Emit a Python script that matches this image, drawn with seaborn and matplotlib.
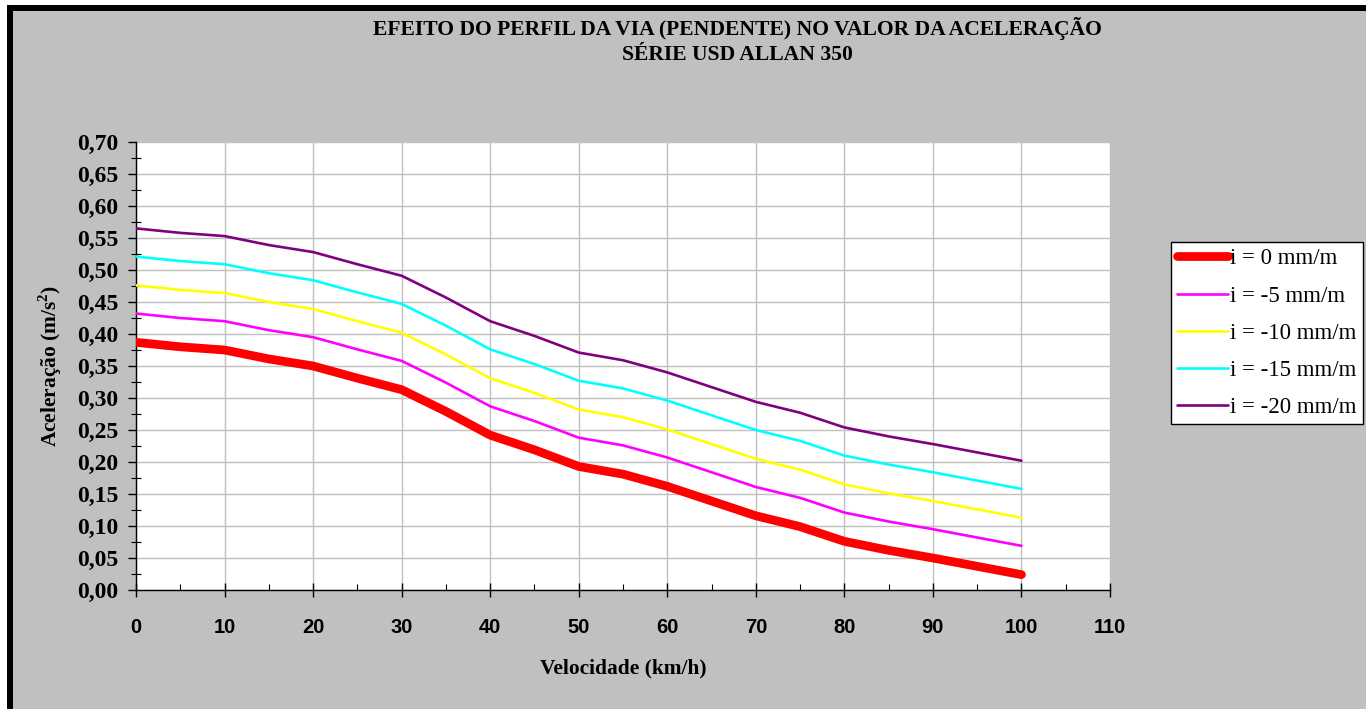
import pandas as pd
import matplotlib.pyplot as plt
import seaborn as sns
from matplotlib.patches import Rectangle
from matplotlib.ticker import MultipleLocator, FuncFormatter

# velocidade (km/h) e aceleracao (m/s2)
velocidade = list(range(0, 101, 5))
acel_0 = [0.387, 0.380, 0.375, 0.361, 0.350, 0.331, 0.313, 0.279, 0.242, 0.219, 0.193,
          0.181, 0.162, 0.139, 0.116, 0.099, 0.076, 0.062, 0.050, 0.037, 0.024]
acel_5 = [0.432, 0.425, 0.420, 0.406, 0.395, 0.376, 0.358, 0.324, 0.287, 0.264, 0.238,
          0.226, 0.207, 0.184, 0.161, 0.144, 0.121, 0.107, 0.095, 0.082, 0.069]
acel_10 = [0.476, 0.469, 0.464, 0.450, 0.439, 0.420, 0.402, 0.368, 0.331, 0.308, 0.282,
           0.270, 0.251, 0.228, 0.205, 0.188, 0.165, 0.151, 0.139, 0.126, 0.113]
acel_15 = [0.521, 0.514, 0.509, 0.495, 0.484, 0.465, 0.447, 0.413, 0.376, 0.353, 0.327,
           0.315, 0.296, 0.273, 0.250, 0.233, 0.210, 0.196, 0.184, 0.171, 0.158]
acel_20 = [0.565, 0.558, 0.553, 0.539, 0.528, 0.509, 0.491, 0.457, 0.420, 0.397, 0.371,
           0.359, 0.340, 0.317, 0.294, 0.277, 0.254, 0.240, 0.228, 0.215, 0.202]

rotulos = ['i = 0 mm/m', 'i = -5 mm/m', 'i = -10 mm/m', 'i = -15 mm/m', 'i = -20 mm/m']
cores = ['#FF0000', '#FF00FF', '#FFFF00', '#00FFFF', '#800080']
espessuras = [6.3, 1.9, 1.9, 1.9, 1.9]

plt.rcParams['font.family'] = ['Liberation Serif', 'DejaVu Serif']
plt.rcParams['mathtext.fontset'] = 'custom'
plt.rcParams['mathtext.rm'] = 'Liberation Serif:bold'
plt.rcParams['mathtext.bf'] = 'Liberation Serif:bold'

W, H = 1366, 709
fig = plt.figure(figsize=(W / 100, H / 100), dpi=100)
fig.patch.set_facecolor('white')

# fundo cinza com moldura preta (estilo Excel)
fig.add_artist(Rectangle((13 / W, 0), 1, (H - 11) / H, transform=fig.transFigure,
                         facecolor='#C0C0C0', edgecolor='none', zorder=-10))
fig.add_artist(Rectangle((7 / W, (H - 11) / H), 1, 6 / H, transform=fig.transFigure,
                         facecolor='black', edgecolor='none', zorder=-9))
fig.add_artist(Rectangle((7 / W, 0), 6 / W, (H - 5) / H, transform=fig.transFigure,
                         facecolor='black', edgecolor='none', zorder=-9))

ax = fig.add_axes([136 / W, 1 - 590 / H, (1110 - 136) / W, (590 - 142) / H])
ax.set_facecolor('white')

series = [acel_0, acel_5, acel_10, acel_15, acel_20]
for vals, lab, cor, lw in zip(series, rotulos, cores, espessuras):
    df = pd.DataFrame({'v': velocidade, 'a': vals})
    sns.lineplot(data=df, x='v', y='a', color=cor, linewidth=lw, label=lab, ax=ax,
                 solid_capstyle='round', solid_joinstyle='round', zorder=3)

ax.set_xlim(0, 110)
ax.set_ylim(0, 0.70)
ax.xaxis.set_major_locator(MultipleLocator(10))
ax.xaxis.set_minor_locator(MultipleLocator(5))
ax.yaxis.set_major_locator(MultipleLocator(0.05))
ax.yaxis.set_minor_locator(MultipleLocator(0.025))
ax.yaxis.set_major_formatter(FuncFormatter(lambda v, p: f'{v:.2f}'.replace('.', ',')))
ax.grid(True, which='major', color='#C0C0C0', linewidth=1)
ax.set_axisbelow(True)

for s in ['top', 'right']:
    ax.spines[s].set_visible(False)
for s in ['left', 'bottom']:
    ax.spines[s].set_color('black')
    ax.spines[s].set_linewidth(1)

ax.tick_params(axis='x', which='major', direction='inout', length=9.4, width=1, pad=15.5)
ax.tick_params(axis='x', which='minor', direction='in', length=4.3, width=0.8)
ax.tick_params(axis='y', which='major', direction='out', length=5.8, width=1, pad=7)
ax.tick_params(axis='y', which='minor', direction='inout', length=7.2, width=0.8)

for t in ax.get_xticklabels():
    t.set_fontfamily(['Liberation Sans', 'DejaVu Sans'])
    t.set_fontweight('bold')
    t.set_fontsize(14.5)
for t in ax.get_yticklabels():
    t.set_fontweight('bold')
    t.set_fontsize(17)

ax.set_xlabel('Velocidade (km/h)', fontsize=15.4, fontweight='bold')
ax.set_ylabel('Aceleração (m/s$^{2}$)', fontsize=15.4, fontweight='bold')
ax.xaxis.set_label_coords(0.5, -(658 - 590) / (590 - 142))
ax.yaxis.set_label_coords(-(136 - 64) / (1110 - 136), 0.5)

fig.text(737 / W, 1 - 28 / H, 'EFEITO DO PERFIL DA VIA (PENDENTE) NO VALOR DA ACELERAÇÃO',
         ha='center', va='center', fontsize=15.6, fontweight='bold')
fig.text(737 / W, 1 - 55 / H, 'SÉRIE USD ALLAN 350',
         ha='center', va='center', fontsize=15.6, fontweight='bold')

leg = ax.legend(loc='upper left', bbox_to_anchor=(1171 / W, 1 - 242 / H),
                bbox_transform=fig.transFigure, fontsize=16.5, frameon=True,
                fancybox=False, shadow=False, borderaxespad=0, handlelength=2.2,
                handletextpad=0.1, labelspacing=0.7, borderpad=0.28)
leg.get_frame().set_edgecolor('black')
leg.get_frame().set_linewidth(1)
leg.get_frame().set_facecolor('white')
leg.get_frame().set_alpha(1)

fig.savefig('out.png', dpi=100, facecolor=fig.get_facecolor())
